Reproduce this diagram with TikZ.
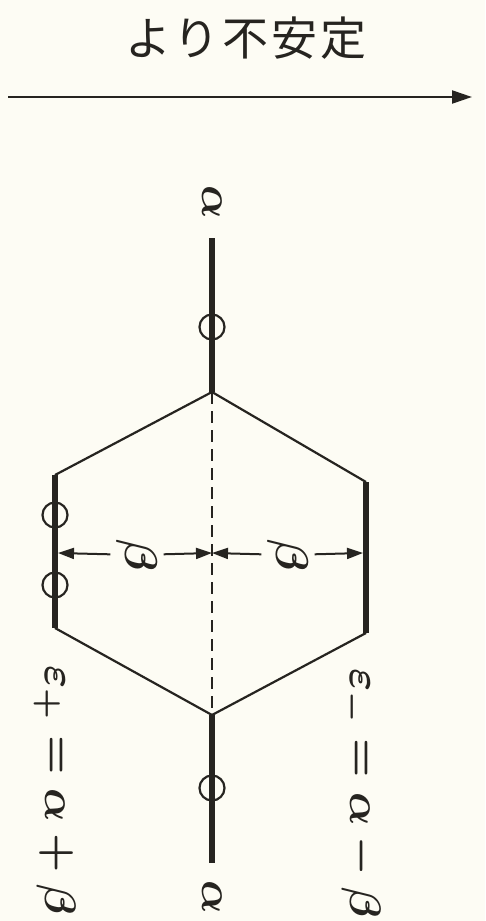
\documentclass[tikz,border=0pt]{standalone}
\usepackage{fontspec}
\newfontfamily\cjk[LetterSpace=6]{Noto Sans CJK JP}
\usetikzlibrary{arrows.meta}
\definecolor{bgc}{RGB}{253,252,244}
\definecolor{inkc}{RGB}{38,36,32}
\newcommand{\mlab}[1]{\scalebox{4.4}{\boldmath$#1$}}
\newcommand{\blab}[1]{\scalebox{4.6}{\boldmath$#1$}}
\tikzset{
  thickline/.style={draw=inkc, line width=6pt},
  thinline/.style={draw=inkc, line width=2.2pt},
  midline/.style={draw=inkc, line width=2pt, dash pattern=on 12pt off 7pt},
  orb/.style={circle, draw=inkc, line width=2.2pt, minimum size=25pt, inner sep=0pt},
  mlabel/.style={text=inkc, rotate=-90, inner sep=0pt},
  blabel/.style={text=inkc, rotate=-90, inner sep=6pt},
  dimarrow/.style={draw=inkc, line width=2pt, -{Triangle[length=16pt,width=11pt]}},
}
\begin{document}
\begin{tikzpicture}[x=1pt,y=-1pt]
\fill[bgc] (0,0) rectangle (485,921);
\useasboundingbox (0,0) rectangle (485,921);

% title and arrow
\node[text=inkc, inner sep=0pt, font=\cjk\fontsize{46}{46}\selectfont] (title) at (246,38) {より不安定};
\coordinate (aL) at (8,97);
\coordinate (aR) at (472,97);
\draw[draw=inkc, line width=2.2pt, -{Triangle[length=20pt,width=13pt]}] (aL) -- (aR);

% level coordinates
\coordinate (t1) at (212,238);
\coordinate (t2) at (212,392);
\coordinate (l1) at (55,475);
\coordinate (l2) at (55,628);
\coordinate (r1) at (366,482);
\coordinate (r2) at (366,633);
\coordinate (b1) at (212,715);
\coordinate (b2) at (212,863);

% levels
\draw[thickline] (t1) -- (t2);
\draw[thickline] (l1) -- (l2);
\draw[thickline] (r1) -- (r2);
\draw[thickline] (b1) -- (b2);
% correlation lines
\draw[thinline] (t2) -- (l1);
\draw[thinline] (t2) -- (r1);
\draw[thinline] (l2) -- (b1);
\draw[thinline] (r2) -- (b1);
\draw[midline] (t2) -- (b1);

% electrons
\node[orb] (e1) at (212,327) {};
\node[orb] (e2) at (212,788) {};
\node[orb] (e3) at (55,515) {};
\node[orb] (e4) at (55,585) {};

% labels
\node[mlabel] (alphaT) at (212,202) {\mlab{\alpha}};
\node[mlabel] (alphaB) at (212,897) {\mlab{\alpha}};
\node[mlabel] (epsP) at (55,790) {\mlab{\varepsilon_+=\alpha+\beta}};
\node[mlabel] (epsM) at (360,793) {\mlab{\varepsilon_-=\alpha-\beta}};

% beta separations
\coordinate (mid) at (212,553);
\coordinate (lp) at (58,553);
\coordinate (rp) at (363,553);
\node[blabel] (betaL) at (137,555) {\blab{\beta}};
\node[blabel] (betaR) at (288,555) {\blab{\beta}};
\draw[dimarrow] (betaL) -- (lp);
\draw[dimarrow] (betaL) -- (mid);
\draw[dimarrow] (betaR) -- (mid);
\draw[dimarrow] (betaR) -- (rp);
\end{tikzpicture}
\end{document}
